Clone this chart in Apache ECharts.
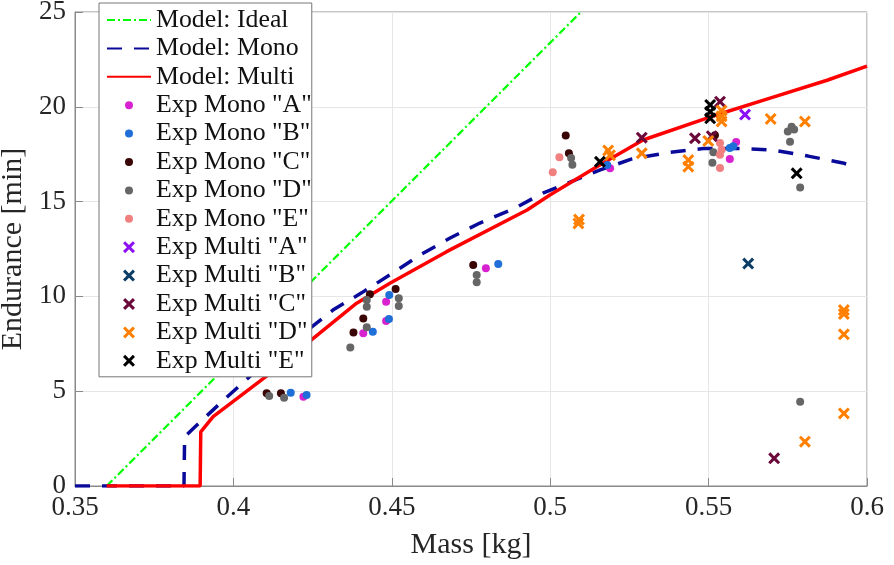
<!DOCTYPE html>
<html>
<head>
<meta charset="utf-8">
<script src="https://cdn.jsdelivr.net/npm/echarts@6/dist/echarts.min.js"></script>
<style>
  html, body { margin: 0; padding: 0; background: #fff; }
  #main { width: 894px; height: 565px; }
</style>
</head>
<body>
<div id="main"></div>
<script>
// axis ticks
const xTicks = ['0.35', '0.4', '0.45', '0.5', '0.55', '0.6']
const yTicks = ['0', '5', '10', '15', '20', '25']

// model curves [mass kg, endurance min]
const modelIdeal = [[0.36, 0], [0.5097, 25]]
const modelMono = [
  [0.35, 0], [0.3844, 0], [0.3846, 2.6], [0.3884, 3.2], [0.3967, 4.5], [0.405, 5.75],
  [0.415, 7.1], [0.4314, 9.28], [0.4406, 10.2], [0.45, 11.2], [0.4589, 12.18],
  [0.4684, 13.08], [0.4778, 13.87], [0.4889, 14.66], [0.4977, 15.45], [0.5158, 16.67],
  [0.5258, 17.25], [0.5378, 17.6], [0.5483, 17.8], [0.5609, 17.8], [0.5703, 17.72],
  [0.5814, 17.4], [0.5924, 17.04], [0.595, 16.9]
]
const modelMulti = [
  [0.36, 0], [0.3895, 0], [0.3897, 2.85], [0.3936, 3.66], [0.4116, 5.94], [0.4252, 7.79],
  [0.4389, 9.64], [0.4494, 10.69], [0.4673, 12.36], [0.4927, 14.56], [0.4999, 15.35],
  [0.5167, 17.04], [0.5293, 18.25], [0.5504, 19.46], [0.5694, 20.46], [0.5874, 21.4],
  [0.6, 22.15]
]

// experiments
const monoA = [[0.4221, 4.71], [0.4410, 8.05], [0.4482, 8.70], [0.4482, 9.72], [0.4797, 11.48],
  [0.5189, 16.76], [0.5567, 17.25], [0.5587, 18.14]]
const monoB = [[0.4181, 4.92], [0.4231, 4.80], [0.4440, 8.14], [0.4491, 8.81], [0.4492, 10.07],
  [0.4836, 11.71], [0.5180, 16.93], [0.5567, 17.83], [0.5578, 17.92]]
const monoC = [[0.4105, 4.89], [0.4150, 4.89], [0.4379, 8.09], [0.4410, 8.84], [0.4431, 10.11],
  [0.4512, 10.39], [0.4757, 11.66], [0.5049, 18.48], [0.5059, 17.55], [0.5520, 18.5]]
const monoD = [[0.4113, 4.75], [0.4160, 4.66], [0.4369, 7.30], [0.4421, 8.37], [0.4421, 9.46],
  [0.4421, 9.81], [0.4522, 9.90], [0.4522, 9.49], [0.4768, 11.13], [0.4768, 10.74],
  [0.5066, 17.3], [0.5070, 16.95], [0.5512, 17.05], [0.5515, 17.6], [0.5750, 18.7],
  [0.5762, 18.95], [0.5770, 18.8], [0.5757, 18.16], [0.5789, 15.75], [0.5789, 4.45]]
const monoE = [[0.5008, 16.55], [0.5029, 17.34], [0.5536, 18.09], [0.5541, 17.74],
  [0.5536, 17.47], [0.5536, 16.77]]
const multiA = [[0.5615, 19.59]]
const multiB = [[0.5625, 11.73]]
const multiC = [[0.5289, 18.37], [0.5457, 18.34], [0.5510, 18.45], [0.5536, 20.27], [0.5707, 1.46]]
const multiD = [[0.5089, 13.85], [0.5091, 14.05], [0.5183, 17.7], [0.5189, 17.45], [0.5289, 17.55],
  [0.5436, 17.19], [0.5436, 16.84], [0.5499, 18.2], [0.5541, 19.8], [0.5541, 19.5],
  [0.5541, 19.23], [0.5696, 19.36], [0.5804, 19.22], [0.5927, 9.28], [0.5927, 9.07],
  [0.5927, 8.0], [0.5927, 3.83], [0.5804, 2.34]]
const multiE = [[0.5157, 17.10], [0.5505, 20.1], [0.5505, 19.74], [0.5505, 19.39], [0.5778, 16.49]]

const FONT = 'Liberation Serif'
const AXIS_COLOR = '#8a8a8a'
const CROSS = 'path://M0,1.8L1.8,0L5,3.2L8.2,0L10,1.8L6.8,5L10,8.2L8.2,10L5,6.8L1.8,10L0,8.2L3.2,5Z'
// small dot inside a 12x12 box for the legend
const DOT_ICON = 'path://M0 0M12 12M2 6A4 4 0 1 1 10 6A4 4 0 1 1 2 6Z'

const chart = echarts.init(document.getElementById('main'))

const lineSeries = (name, data, color, width, type) => ({
  name, type: 'line', data, symbol: 'none', showSymbol: false,
  lineStyle: { color, width, type }, itemStyle: { color }, z: 2, silent: true
})
const dotSeries = (name, data, color) => ({
  name, type: 'scatter', data, symbol: 'circle', symbolSize: 8,
  itemStyle: { color, opacity: 1 }, z: 3
})
const crossSeries = (name, data, color) => ({
  name, type: 'scatter', data, symbol: CROSS, symbolSize: 12,
  itemStyle: { color, opacity: 1 }, z: 3
})

const series = [
  lineSeries('Model: Ideal', modelIdeal, '#00ff00', 2.2, [8, 3, 2, 3]),
  lineSeries('Model: Mono', modelMono, '#0a0a9a', 3.5, [15, 12]),
  lineSeries('Model: Multi', modelMulti, '#ff0000', 3.5, 'solid'),
  dotSeries('Exp Mono "A"', monoA, '#d822d0'),
  dotSeries('Exp Mono "B"', monoB, '#1f6fd8'),
  dotSeries('Exp Mono "C"', monoC, '#3a0505'),
  dotSeries('Exp Mono "D"', monoD, '#666666'),
  dotSeries('Exp Mono "E"', monoE, '#f08080'),
  crossSeries('Exp Multi "A"', multiA, '#8b10f5'),
  crossSeries('Exp Multi "B"', multiB, '#0b3d66'),
  crossSeries('Exp Multi "C"', multiC, '#6b0a3a'),
  crossSeries('Exp Multi "D"', multiD, '#ff8000'),
  crossSeries('Exp Multi "E"', multiE, '#000000')
]

const legendData = series.map(s => {
  if (s.type === 'line') return { name: s.name, itemStyle: { opacity: 0, borderWidth: 0 } }
  if (s.symbol === 'circle') return { name: s.name, icon: DOT_ICON }
  return { name: s.name }
})

const option = {
  animation: false,
  backgroundColor: '#fff',
  textStyle: { fontFamily: FONT },
  grid: {
    left: 75, right: 27, top: 12, bottom: 79,
    outerBoundsMode: 'none',
    show: true, borderColor: AXIS_COLOR, borderWidth: 1
  },
  legend: {
    data: legendData,
    orient: 'vertical',
    left: 99, top: 3,
    padding: [4, 0, 3, 7],
    itemWidth: 44, itemHeight: 12, itemGap: 2.4,
    backgroundColor: '#fff',
    borderColor: '#777', borderWidth: 1,
    textStyle: { fontFamily: FONT, fontSize: 25.8, color: '#111' },
    selectedMode: false
  },
  xAxis: {
    type: 'value', min: 0.35, max: 0.6, interval: 0.05,
    name: 'Mass [kg]', nameLocation: 'middle', nameGap: 44,
    nameTextStyle: { fontFamily: FONT, fontSize: 30, color: '#262626' },
    axisLine: { show: true, lineStyle: { color: AXIS_COLOR, width: 1 } },
    axisTick: { show: true, inside: true, length: 8, lineStyle: { color: AXIS_COLOR } },
    axisLabel: {
      fontFamily: FONT, fontSize: 27, color: '#262626', margin: 8,
      formatter: v => xTicks[Math.round((v - 0.35) / 0.05)]
    },
    splitLine: { show: true, lineStyle: { color: '#e6e6e6', width: 1 } }
  },
  yAxis: {
    type: 'value', min: 0, max: 25, interval: 5,
    name: 'Endurance [min]', nameLocation: 'middle', nameGap: 40,
    nameTextStyle: { fontFamily: FONT, fontSize: 30, color: '#262626' },
    axisLine: { show: true, lineStyle: { color: AXIS_COLOR, width: 1 } },
    axisTick: { show: true, inside: true, length: 8, lineStyle: { color: AXIS_COLOR } },
    axisLabel: {
      fontFamily: FONT, fontSize: 27, color: '#262626', margin: 9,
      formatter: v => yTicks[Math.round(v / 5)]
    },
    splitLine: { show: true, lineStyle: { color: '#e6e6e6', width: 1 } }
  },
  series
}

chart.setOption(option)
window.addEventListener('resize', () => chart.resize())
</script>
</body>
</html>
